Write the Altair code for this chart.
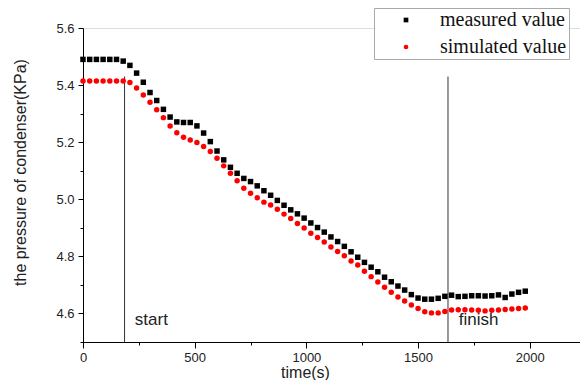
import altair as alt
import pandas as pd

times = list(range(0, 1981, 30))

measured = [5.49, 5.49, 5.49, 5.49, 5.49, 5.49, 5.484, 5.469, 5.442, 5.410,
            5.374, 5.346, 5.315, 5.288, 5.271, 5.269, 5.269, 5.257, 5.232, 5.202,
            5.169, 5.138, 5.112, 5.091, 5.073, 5.062, 5.047, 5.030, 5.014, 4.996,
            4.979, 4.963, 4.949, 4.934, 4.917, 4.901, 4.885, 4.868, 4.852, 4.835,
            4.816, 4.797, 4.779, 4.762, 4.746, 4.727, 4.711, 4.696, 4.682, 4.666,
            4.654, 4.650, 4.650, 4.653, 4.660, 4.664, 4.659, 4.660, 4.662, 4.662,
            4.661, 4.662, 4.665, 4.656, 4.668, 4.674, 4.678]

simulated = [5.414, 5.414, 5.414, 5.414, 5.414, 5.414, 5.414, 5.409, 5.390, 5.365,
             5.340, 5.314, 5.286, 5.257, 5.233, 5.217, 5.208, 5.199, 5.185, 5.167,
             5.144, 5.117, 5.091, 5.065, 5.039, 5.021, 5.005, 4.990, 4.980, 4.965,
             4.948, 4.933, 4.915, 4.899, 4.881, 4.866, 4.850, 4.833, 4.817, 4.802,
             4.784, 4.770, 4.748, 4.729, 4.710, 4.692, 4.674, 4.658, 4.644, 4.630,
             4.617, 4.606, 4.602, 4.602, 4.607, 4.612, 4.613, 4.613, 4.612, 4.611,
             4.609, 4.611, 4.612, 4.614, 4.616, 4.617, 4.619]

series_names = ["measured value", "simulated value"]
series_colors = ["#000000", "#ff0000"]
series_shapes = ["square", "circle"]

marker_times = [186, 1634]
marker_top = 5.43
marker_bottom = 4.5
marker_labels = ["start", "finish"]
label_times = [232, 1682]
label_values = [4.578, 4.578]

x_major = [0, 500, 1000, 1500, 2000]
x_minor = [250, 750, 1250, 1750]
y_major = [4.6, 4.8, 5.0, 5.2, 5.4, 5.6]
y_minor = [4.5, 4.7, 4.9, 5.1, 5.3, 5.5]

n = min(len(times), len(measured), len(simulated))
df = pd.DataFrame({
    "time": times[:n] * 2,
    "value": measured[:n] + simulated[:n],
    "series": [series_names[0]] * n + [series_names[1]] * n,
})
rules = pd.DataFrame({"time": marker_times, "top": [marker_top] * 2, "bottom": [marker_bottom] * 2})
labels = pd.DataFrame({"time": label_times, "value": label_values, "text": marker_labels})
minor_x_df = pd.DataFrame({"time": x_minor})
minor_y_df = pd.DataFrame({"value": y_minor})

sans = "Liberation Sans"

xscale = alt.Scale(domain=[0, 2225], nice=False, zero=False)
yscale = alt.Scale(domain=[4.5, 5.6], nice=False, zero=False)

xaxis = alt.Axis(
    values=x_major, grid=False, domainColor="#000", tickColor="#000", tickSize=6,
    format="d", labelFlush=False, labelBound=False, labelOverlap=False,
    labelFont=sans, labelFontSize=13, labelColor="#222", labelPadding=3,
    title="time(s)", titleFont=sans, titleFontSize=16, titleFontWeight="normal",
    titleColor="#222", titleX=222, titleY=35, titleBaseline="alphabetic",
    titleAnchor="start", titleAlign="center",
)
yaxis = alt.Axis(
    values=y_major, grid=False, domainColor="#000", tickColor="#000", tickSize=5,
    format=".1f", labelFlush=False, labelBound=False, labelOverlap=False,
    labelFont=sans, labelFontSize=13, labelColor="#222", labelPadding=4,
    title="the pressure of condenser(KPa)", titleFont=sans, titleFontSize=16,
    titleFontWeight="normal", titleColor="#222", titlePadding=27, titleY=144,
)

points = alt.Chart(df).mark_point(filled=True, opacity=1, size=30).encode(
    x=alt.X("time:Q", scale=xscale, axis=xaxis),
    y=alt.Y("value:Q", scale=yscale, axis=yaxis),
    color=alt.Color("series:N", scale=alt.Scale(domain=series_names, range=series_colors),
                    legend=alt.Legend(title=None, orient="none", legendX=291, legendY=-20,
                                      labelFont="Liberation Serif", labelFontSize=20,
                                      labelColor="#111", strokeColor="#aaa", padding=2,
                                      symbolSize=22, symbolOffset=20, labelOffset=24,
                                      rowPadding=7, fillColor="white")),
    shape=alt.Shape("series:N", scale=alt.Scale(domain=series_names, range=series_shapes)),
)

rule_layer = alt.Chart(rules).mark_rule(color="#333", strokeWidth=1).encode(
    x="time:Q", y="top:Q", y2="bottom:Q"
)

text_layer = alt.Chart(labels).mark_text(
    align="left", baseline="middle", font=sans, fontSize=17, color="#222"
).encode(x="time:Q", y="value:Q", text="text:N")

main = alt.layer(rule_layer, points, text_layer)

minor_x = alt.Chart(minor_x_df).mark_point(opacity=0).encode(
    x=alt.X("time:Q", scale=xscale,
            axis=alt.Axis(values=x_minor, orient="bottom", labels=False, domain=False,
                          grid=False, tickColor="#000", tickSize=3, title=None))
)
minor_y = alt.Chart(minor_y_df).mark_point(opacity=0).encode(
    y=alt.Y("value:Q", scale=yscale,
            axis=alt.Axis(values=y_minor, orient="left", labels=False, domain=False,
                          grid=False, tickColor="#000", tickSize=3, title=None))
)

chart = alt.layer(main, minor_x, minor_y).resolve_axis(
    x="independent", y="independent"
).properties(
    width=497, height=314,
    autosize=alt.AutoSizeParams(type="none"),
    padding={"left": 75, "top": 20, "right": 0, "bottom": 38},
).configure_view(stroke=None).configure(background="white")

chart.save("out.html", embed_options={"renderer": "svg", "actions": False})
